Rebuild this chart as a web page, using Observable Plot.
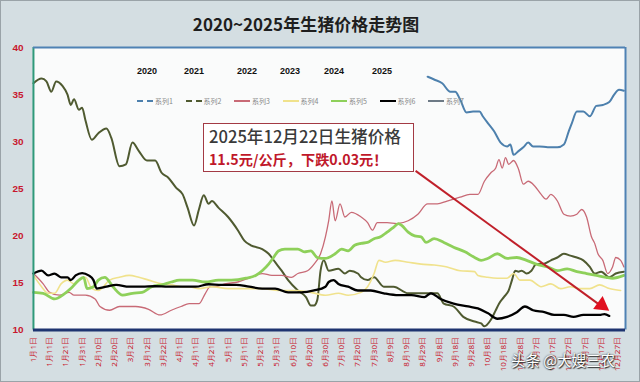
<!DOCTYPE html>
<html>
<head>
<meta charset="utf-8">
<script src="https://cdn.jsdelivr.net/npm/d3@7"></script>
<script src="https://cdn.jsdelivr.net/npm/@observablehq/plot@0.6"></script>
<style>
  html, body { margin: 0; padding: 0; background: #fff; }
  #wrap { position: relative; width: 638px; height: 380px; border: 1px solid #9aa3a8;
          background: #d4dee2; overflow: hidden; font-family: "Noto Sans CJK SC", "Noto Sans", sans-serif; }
  #title { position: absolute; left: 0; top: 10px; width: 610px; text-align: center;
           font-size: 17px; font-weight: bold; color: #1e1e1e; }
  #chart { position: absolute; left: -1px; top: 39px; }
  .yr { position: absolute; top: 65px; font: bold 9px "Liberation Sans", Arial, sans-serif; color: #111; }
  .lg { position: absolute; top: 95px; height: 10px; display: flex; align-items: center; font-size: 7px; color: #888; }
  .lg i { display: inline-block; width: 16px; height: 0; margin-right: 2px; }
  #note { position: absolute; left: 202px; top: 122px; width: 211px; height: 49px; background: #fff;
          border: 1.5px solid #a33a44; box-sizing: border-box; padding: 0 0 0 5px; }
  #note .l1 { font-size: 16.6px; color: #3a3a3a; line-height: 25px; height: 25px; white-space: nowrap; font-weight: 500; }
  #note .l2 { font-size: 14.2px; color: #c0182a; font-weight: bold; line-height: 20px; height: 20px; white-space: nowrap; }
  #wm { position: absolute; left: 510px; top: 348px; font-size: 14.5px; color: #fff; white-space: nowrap;
        text-shadow: 0 0 2px #222, 1px 1px 1px #333; }
</style>
</head>
<body>
<div id="wrap">
  <div id="title">2020~2025年生猪价格走势图</div>
  <div id="chart"></div>
</div>
<script>
// ---- data (day of year, price 元/公斤) ----
const seriesNames = ["系列1", "系列2", "系列3", "系列4", "系列5", "系列6", "系列7"];
const yearLabels = ["2020", "2021", "2022", "2023", "2024", "2025"];
const tickDays = [0,10,20,30,40,50,60,70,80,90,100,110,120,130,140,150,160,170,180,190,200,210,220,230,240,250,260,270,280,290,300,310,320,330,340,350,360];
const tickLabels = ["1月1日","1月11日","1月21日","1月31日","2月10日","2月20日","3月2日","3月12日","3月22日","4月1日","4月11日","4月21日","5月1日","5月11日","5月21日","5月31日","6月10日","6月20日","6月30日","7月10日","7月20日","7月30日","8月9日","8月19日","8月29日","9月8日","9月18日","9月28日","10月8日","10月18日","10月28日","11月7日","11月17日","11月27日","12月7日","12月17日","12月27日"];
const yTicks = [10, 15, 20, 25, 30, 35, 40];

const s1 = [[243,36.9],[247,36.6],[252,36.2],[257,35.3],[260,35.3],[263,34.5],[267,33.1],[271,33.2],[275,33.2],[277,32.7],[280,32.0],[284,31.1],[288,29.9],[292,29.5],[294,29.7],[296,28.6],[299,29.0],[302,29.4],[305,29.9],[308,29.5],[312,29.5],[317,29.4],[323,29.4],[327,29.7],[330,31.1],[332,32.0],[335,33.2],[339,33.2],[343,32.7],[347,33.8],[351,33.9],[355,34.2],[358,35.0],[361,35.5],[364,35.4]];
const s2 = [[0,36.2],[5,36.7],[8,36.4],[11,35.3],[14,36.4],[18,35.9],[21,35.0],[23,33.9],[25,34.5],[28,33.4],[30,33.6],[32,32.3],[36,30.2],[40,30.9],[45,31.4],[48,30.4],[53,27.4],[57,27.6],[61,29.9],[65,29.0],[70,28.0],[75,28.0],[79,26.7],[83,26.2],[88,25.1],[92,24.4],[95,23.0],[99,21.1],[102,22.8],[105,24.3],[108,23.4],[110,23.7],[114,23.0],[120,22.0],[126,20.6],[130,19.5],[134,19.0],[141,18.6],[145,18.1],[149,17.2],[153,16.3],[157,15.3],[163,14.2],[168,13.5],[171,12.6],[173,12.6],[175,13.2],[177,16.3],[179,17.4],[182,16.3],[188,16.5],[192,16.0],[195,16.3],[200,16.0],[202,15.6],[206,15.3],[210,15.6],[216,14.6],[222,14.6],[231,13.9],[241,13.9],[249,13.9],[253,12.8],[259,12.5],[265,11.4],[272,10.9],[276,10.7],[278,10.4],[282,11.1],[285,12.1],[287,12.8],[290,13.5],[293,14.2],[295,15.3],[297,16.3],[299,16.2],[301,16.3],[304,16.0],[307,16.3],[310,17.0],[314,17.0],[319,17.4],[323,17.7],[327,18.1],[331,17.9],[335,17.7],[339,17.4],[343,16.7],[346,16.0],[350,16.2],[355,15.6],[359,16.0],[364,16.2]];
const s3 = [[0,16.0],[6,14.9],[10,14.0],[16,13.7],[22,14.0],[25,13.7],[32,13.7],[38,13.3],[41,12.5],[47,12.1],[53,12.5],[63,12.5],[71,12.2],[78,11.6],[85,12.1],[91,12.5],[96,12.8],[102,12.8],[106,13.9],[109,14.6],[112,14.6],[118,14.9],[126,15.1],[134,15.6],[141,16.0],[147,15.8],[153,15.8],[159,15.6],[163,16.0],[169,16.3],[173,17.0],[177,18.1],[180,19.9],[182,21.6],[184,23.7],[186,21.6],[189,23.4],[192,22.0],[196,22.5],[202,22.0],[206,21.4],[209,20.6],[212,21.4],[218,21.4],[224,21.3],[231,21.6],[237,22.3],[243,23.4],[249,23.4],[255,23.7],[263,24.1],[269,24.4],[274,24.4],[278,25.8],[282,26.7],[285,27.2],[287,28.1],[289,27.2],[291,28.3],[293,27.6],[296,28.0],[299,27.1],[302,25.5],[305,25.8],[309,25.3],[313,24.4],[316,23.9],[319,24.4],[323,23.7],[327,22.3],[331,22.1],[335,22.3],[338,22.8],[341,22.0],[344,19.9],[346,19.2],[348,18.1],[351,17.4],[354,16.0],[357,16.7],[359,17.7],[362,17.4],[364,16.7]];
const s4 = [[0,15.8],[5,14.6],[9,13.9],[13,13.9],[17,14.9],[21,15.3],[25,14.9],[28,15.3],[32,15.6],[36,14.4],[40,14.2],[47,15.3],[53,15.6],[59,15.8],[65,15.6],[71,15.3],[79,14.9],[85,14.8],[92,14.6],[96,14.6],[102,14.4],[110,14.6],[120,14.4],[131,14.4],[141,14.4],[151,14.2],[161,14.2],[171,14.0],[180,13.7],[188,13.9],[194,13.7],[202,14.0],[206,14.6],[210,16.0],[213,17.4],[217,17.2],[223,17.4],[231,17.2],[239,17.0],[247,16.9],[255,16.7],[263,16.3],[272,16.2],[274,15.8],[280,15.6],[286,15.5],[292,15.5],[296,16.0],[300,15.3],[306,15.3],[313,14.6],[319,14.9],[325,14.4],[331,14.6],[337,14.4],[343,14.4],[349,14.8],[355,14.4],[362,14.2]];
const s5 = [[0,14.0],[6,13.9],[13,13.3],[18,13.7],[23,14.4],[28,15.3],[31,15.6],[33,14.4],[37,14.6],[40,15.3],[44,15.6],[49,14.6],[55,13.7],[61,13.9],[67,14.0],[73,14.6],[79,14.8],[85,15.1],[90,15.3],[98,15.3],[106,15.1],[114,15.3],[122,15.3],[131,15.5],[137,15.8],[141,16.3],[145,17.0],[148,17.7],[151,18.4],[155,18.6],[159,18.6],[163,18.6],[167,18.3],[171,18.4],[175,17.7],[180,17.6],[182,17.7],[186,18.1],[190,18.6],[194,18.4],[198,19.0],[202,19.2],[206,19.3],[210,19.7],[214,19.9],[218,20.4],[222,20.9],[225,21.3],[227,21.1],[231,20.4],[235,20.0],[239,19.9],[242,19.3],[247,19.7],[253,19.3],[259,18.8],[266,18.3],[272,17.7],[276,17.4],[280,17.6],[286,18.1],[292,17.6],[298,17.7],[304,17.4],[310,17.0],[317,16.7],[323,16.3],[329,16.5],[335,16.2],[341,16.0],[347,15.8],[353,15.6],[357,15.5],[364,15.8]];
const s6 = [[0,16.0],[5,16.3],[9,15.8],[13,16.0],[17,15.6],[21,15.6],[23,15.3],[26,15.8],[30,16.05],[34,15.8],[37,15.3],[39,14.4],[45,14.6],[51,14.8],[59,14.6],[67,14.6],[75,14.65],[83,14.6],[92,14.6],[100,14.6],[108,14.86],[116,14.8],[125,14.8],[133,14.6],[141,14.4],[149,14.4],[157,14.0],[165,14.0],[173,14.2],[180,14.6],[182,15.1],[185,15.3],[188,14.9],[194,14.6],[200,14.2],[208,14.2],[216,13.9],[225,13.7],[233,13.7],[241,13.5],[245,13.9],[251,13.3],[259,12.8],[268,12.5],[274,12.3],[280,11.8],[286,11.2],[292,11.4],[298,11.9],[303,12.5],[308,12.1],[315,11.9],[321,11.6],[327,11.6],[333,11.4],[339,11.6],[345,11.6],[349,11.6],[352,11.7],[355,11.5]];
const seriesData = [s1, s2, s3, s4, s5, s6];

// annotation arrow (data coordinates)
const arrowLine = [{x1: 235.6, y1: 26.9, x2: 348, y2: 12.8}];
const arrowHead = [{x: 350.3, y: 12.64}];

// ---- styles ----
const colors = ["#4d80ad", "#4f5a30", "#c86a76", "#f0e28c", "#8ed05a", "#000000", "#6d7a86"];
const widths = [2, 2, 1.3, 1.6, 2.8, 2.3, 2];

const rows = seriesData.flatMap((s, k) => s.map(([d, v]) => ({day: d, price: v, series: seriesNames[k]})));

const red = "#c8182e";
const chart = Plot.plot({
  width: 640, height: 342,
  marginTop: 7, marginBottom: 52, marginLeft: 33, marginRight: 14,
  style: {background: "transparent", overflow: "visible"},
  x: {domain: [0, 365]},
  y: {domain: [10, 40]},
  marks: [
    Plot.frame({fill: "#fafbfb", stroke: null}),
    Plot.axisY({ticks: yTicks, tickSize: 0, tickPadding: 10, label: null, fill: red, fontSize: 10, fontWeight: "bold",
                fontFamily: "Liberation Sans, Arial, sans-serif"}),
    Plot.axisX({ticks: tickDays, tickFormat: d => tickLabels[tickDays.indexOf(d)], tickRotate: -90, tickSize: 0,
                tickPadding: 7, label: null, fill: red, fontSize: 8}),
    ...seriesData.map((s, k) => Plot.line(rows.filter(r => r.series === seriesNames[k]),
      {x: "day", y: "price", stroke: colors[k], strokeWidth: widths[k], curve: "monotone-x"})),
    Plot.link(arrowLine, {x1: "x1", y1: "y1", x2: "x2", y2: "y2", stroke: "#c0202a", strokeWidth: 2}),
    Plot.dot(arrowHead, {x: "x", y: "y", symbol: "triangle", r: 6, fill: "#e01020", stroke: null, rotate: 126}),
    Plot.ruleX([0], {stroke: "#2f9a7a", strokeWidth: 2}),
    Plot.ruleX([365], {stroke: "#4f82b4", strokeWidth: 2}),
    Plot.ruleY([40], {stroke: "#4f82b4", strokeWidth: 2}),
    Plot.ruleY([10], {stroke: "#1e3470", strokeWidth: 3})
  ]
});
document.getElementById("chart").appendChild(chart);

// ---- overlays: legend, annotation, watermark ----
const wrap = document.getElementById("wrap");
const yearLeft = [136, 183, 236, 279, 323, 371];
yearLabels.forEach((t, i) => {
  const d = document.createElement("div");
  d.className = "yr"; d.style.left = yearLeft[i] + "px"; d.textContent = t; wrap.appendChild(d);
});
const dashes = ["dashed", "dashed", "solid", "solid", "solid", "solid", "solid"];
seriesNames.forEach((n, i) => {
  const d = document.createElement("div");
  d.className = "lg"; d.style.left = (136 + i * 48.5) + "px";
  const s = document.createElement("i");
  s.style.borderTop = `${i === 5 ? 2.5 : 2}px ${dashes[i]} ${colors[i]}`;
  d.appendChild(s); d.appendChild(document.createTextNode(n)); wrap.appendChild(d);
});
const note = document.createElement("div");
note.id = "note";
note.innerHTML = '<div class="l1">2025年12月22日生猪价格</div><div class="l2">11.5元/公斤，下跌0.03元！</div>';
wrap.appendChild(note);
const wm = document.createElement("div");
wm.id = "wm"; wm.textContent = "头条 @大嫂三农"; wrap.appendChild(wm);
</script>
</body>
</html>
